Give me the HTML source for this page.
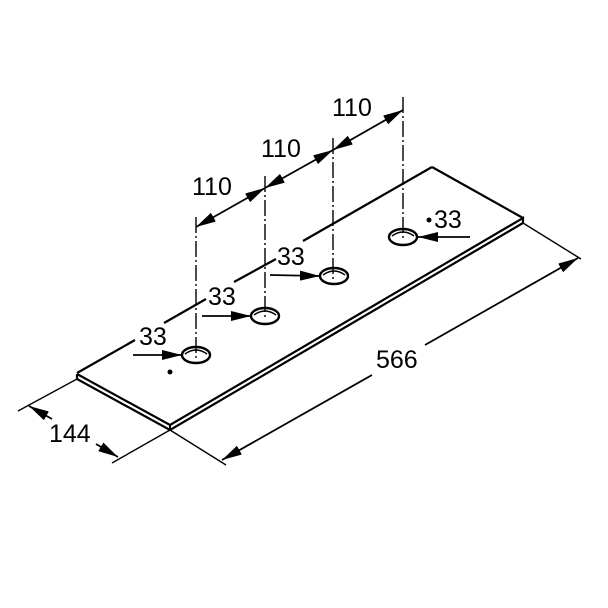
<!DOCTYPE html>
<html><head><style>html,body{margin:0;padding:0;background:#fff}svg{display:block}</style></head>
<body>
<svg width="608" height="608" viewBox="0 0 608 608" xmlns="http://www.w3.org/2000/svg">
<defs>
<marker id="a" viewBox="0 0 20 10" refX="20" refY="5" markerWidth="20" markerHeight="10" markerUnits="userSpaceOnUse" orient="auto-start-reverse">
<path d="M0,0 L20,5 L0,10 z" fill="#000"/>
</marker>
</defs>
<g stroke="#000" fill="none" stroke-width="1.8">
<polyline points="77,374 170,425 523,218 523,223 170,430 77,379 77,374" stroke-width="2.2"/>
<line x1="170" y1="425" x2="170" y2="430" stroke-width="2"/>
<line x1="432" y1="167" x2="523" y2="218" stroke-width="2.2"/>
<line x1="77" y1="373" x2="135" y2="340" stroke-width="2.2"/>
<line x1="164" y1="323" x2="206" y2="299" stroke-width="2.2"/>
<line x1="234" y1="282" x2="276" y2="259" stroke-width="2.2"/>
<line x1="303" y1="241" x2="432" y2="167" stroke-width="2.2"/>
<g stroke-width="2.4">
<ellipse cx="196" cy="355" rx="14" ry="8"/>
<ellipse cx="265" cy="316" rx="14" ry="8"/>
<ellipse cx="334" cy="276" rx="14" ry="8"/>
<ellipse cx="403" cy="237" rx="14" ry="8"/>
</g>
<g stroke-width="1.4">
<path d="M185,354 Q196,346 207,354"/>
<path d="M254,315 Q265,307 276,315"/>
<path d="M323,275 Q334,267 345,275"/>
<path d="M392,236 Q403,228 414,236"/>
</g>
<g stroke-width="1.4" stroke-dasharray="16,3,2,3">
<line x1="196" y1="217" x2="196" y2="358"/>
<line x1="265" y1="176" x2="265" y2="319"/>
<line x1="333" y1="138" x2="333" y2="279"/>
<line x1="403" y1="97" x2="403" y2="240"/>
</g>
<line x1="196" y1="227" x2="265" y2="188" marker-start="url(#a)" marker-end="url(#a)"/>
<line x1="265" y1="188" x2="333" y2="150" marker-start="url(#a)" marker-end="url(#a)"/>
<line x1="333" y1="150" x2="403" y2="110" marker-start="url(#a)" marker-end="url(#a)"/>
<line x1="133" y1="355" x2="182" y2="355" marker-end="url(#a)"/>
<line x1="202" y1="316" x2="251" y2="316" marker-end="url(#a)"/>
<line x1="270" y1="275" x2="320" y2="276" marker-end="url(#a)"/>
<line x1="470" y1="237" x2="418" y2="237" marker-end="url(#a)"/>
<line x1="77" y1="379" x2="18" y2="411" stroke-width="1.4"/>
<line x1="170" y1="430" x2="112" y2="463" stroke-width="1.4"/>
<line x1="52" y1="419" x2="29" y2="406" marker-end="url(#a)"/>
<line x1="96" y1="444" x2="118" y2="457" marker-end="url(#a)"/>
<line x1="170" y1="430" x2="226" y2="465" stroke-width="1.4"/>
<line x1="523" y1="223" x2="581" y2="259" stroke-width="1.4"/>
<line x1="372" y1="375" x2="222" y2="460" marker-end="url(#a)"/>
<line x1="425" y1="345" x2="578" y2="258" marker-end="url(#a)"/>
</g>
<circle cx="170" cy="372" r="2.5" fill="#000"/>
<circle cx="429" cy="220" r="2.5" fill="#000"/>
<g font-family="Liberation Sans, sans-serif" font-size="25" fill="#000">
<text x="192" y="195">110</text>
<text x="261" y="157">110</text>
<text x="332" y="116">110</text>
<text x="139" y="345">33</text>
<text x="208" y="305">33</text>
<text x="277" y="265">33</text>
<text x="434" y="228">33</text>
<text x="49" y="442">144</text>
<text x="376" y="368">566</text>
</g>
</svg>
</body></html>
